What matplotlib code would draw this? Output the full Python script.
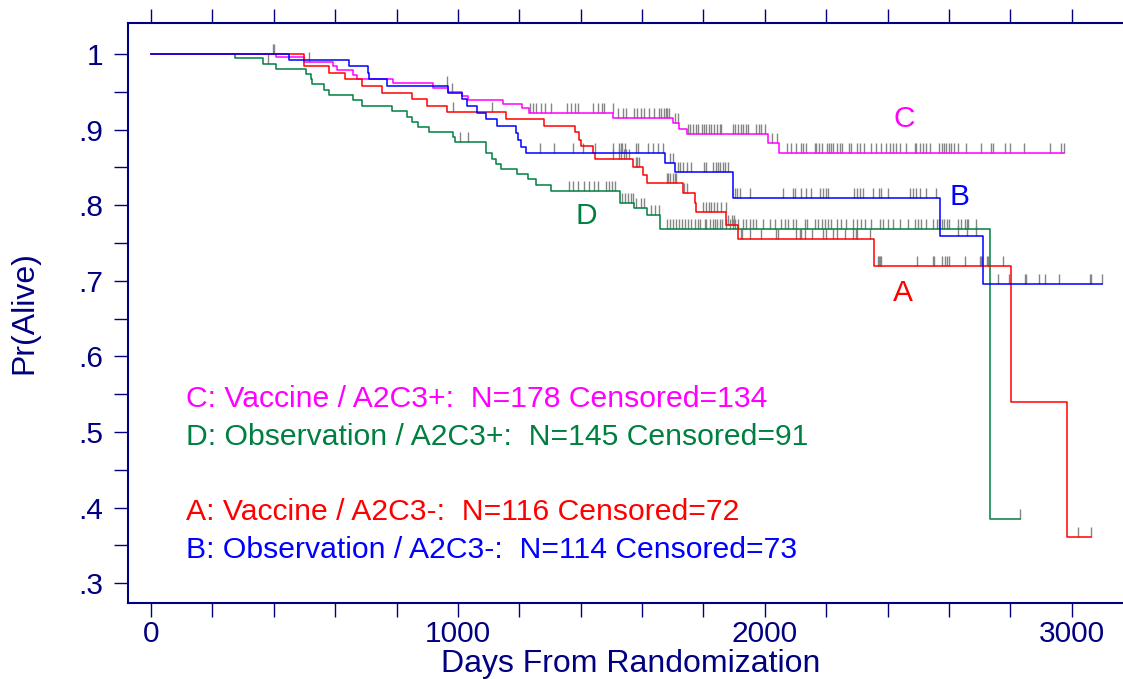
import numpy as np
import matplotlib
matplotlib.use("Agg")
import matplotlib.pyplot as plt

plt.rcParams['font.family'] = ['Liberation Sans', 'DejaVu Sans']

NAVY = '#000080'

# group C: Vaccine / A2C3+
c_times = [407, 498, 594, 605, 659, 670, 789, 918, 969, 1012, 1034, 1148, 1209, 1232,
           1506, 1701, 1721, 1745, 2011, 2047]
c_surv = [0.9956, 0.9890, 0.9841, 0.9784, 0.9726, 0.9669, 0.9612, 0.9550, 0.9497, 0.9444,
          0.9392, 0.9335, 0.9282, 0.9216, 0.9150, 0.9083, 0.9004, 0.8938, 0.8819, 0.8695]
c_end = 2975
c_cens = [400, 516, 1235, 1245, 1256, 1272, 1283, 1305, 1357, 1368, 1381, 1390, 1441, 1455,
          1471, 1477, 1504, 1521, 1537, 1547, 1574, 1585, 1596, 1607, 1623, 1639, 1656, 1663,
          1672, 1677, 1683, 1688, 1707, 1717, 1750, 1758, 1766, 1775, 1783, 1794, 1801, 1810,
          1819, 1826, 1834, 1845, 1853, 1859, 1895, 1902, 1913, 1921, 1929, 1938, 1946, 1973,
          1981, 1989, 2000, 2022, 2040, 2071, 2085, 2103, 2119, 2125, 2134, 2163, 2168, 2177,
          2185, 2204, 2210, 2217, 2223, 2234, 2244, 2253, 2275, 2282, 2302, 2309, 2322, 2347,
          2364, 2380, 2394, 2407, 2418, 2429, 2440, 2459, 2489, 2494, 2505, 2516, 2527, 2537,
          2568, 2576, 2583, 2592, 2600, 2608, 2616, 2630, 2657, 2706, 2736, 2744, 2782, 2800,
          2844, 2928, 2964, 2975]

# group D: Observation / A2C3+
d_times = [274, 364, 407, 505, 521, 525, 565, 581, 659, 689, 785, 835, 851, 871, 907, 985,
           990, 1090, 1093, 1110, 1123, 1139, 1192, 1229, 1253, 1303, 1528, 1575, 1615, 1660,
           2733]
d_surv = [0.9943, 0.9872, 0.9806, 0.9735, 0.9665, 0.9599, 0.9524, 0.9458, 0.9388, 0.9312,
          0.9242, 0.9171, 0.9104, 0.9034, 0.8968, 0.8898, 0.8832, 0.8761, 0.8694, 0.8611,
          0.8545, 0.8479, 0.8409, 0.8343, 0.8263, 0.8192, 0.8033, 0.7959, 0.7870, 0.7681,
          0.3849]
d_end = 2831
d_cens = [381, 1006, 1033, 1363, 1374, 1390, 1412, 1428, 1444, 1455, 1482, 1493, 1503, 1512,
          1536, 1544, 1555, 1563, 1571, 1582, 1598, 1607, 1629, 1642, 1656, 1680, 1690, 1701,
          1712, 1720, 1729, 1739, 1750, 1761, 1772, 1783, 1790, 1805, 1810, 1821, 1832, 1837,
          1845, 1853, 1862, 1873, 1886, 1897, 1902, 1913, 1929, 1940, 1951, 1962, 1973, 1995,
          2016, 2033, 2054, 2065, 2076, 2092, 2103, 2130, 2139, 2163, 2174, 2185, 2195, 2206,
          2217, 2234, 2250, 2266, 2288, 2299, 2315, 2326, 2347, 2375, 2385, 2402, 2418, 2440,
          2467, 2489, 2499, 2510, 2527, 2548, 2560, 2567, 2576, 2583, 2593, 2599, 2629, 2638,
          2651, 2658, 2661, 2687, 2831]

# group A: Vaccine / A2C3-
a_times = [498, 581, 632, 689, 753, 849, 898, 965, 1158, 1281, 1381, 1395, 1400, 1439, 1446,
           1571, 1603, 1617, 1732, 1772, 1775, 1875, 1913, 2356, 2803, 2986]
a_surv = [0.9841, 0.9753, 0.9665, 0.9577, 0.9488, 0.9401, 0.9312, 0.9229, 0.9136, 0.9052,
          0.8964, 0.8862, 0.8787, 0.8694, 0.8607, 0.8501, 0.8399, 0.8290, 0.8157, 0.8033,
          0.7906, 0.7738, 0.7557, 0.7200, 0.5401, 0.3607]
a_end = 3064
a_cens = [397, 985, 1110, 1506, 1524, 1533, 1542, 1549, 1557, 1581, 1585, 1590, 1680, 1685,
          1691, 1701, 1707, 1712, 1736, 1747, 1799, 1810, 1819, 1826, 1834, 1843, 1859, 1873,
          1880, 1892, 1900, 1922, 1927, 1951, 1989, 2038, 2043, 2103, 2114, 2119, 2130, 2155,
          2190, 2201, 2223, 2234, 2261, 2287, 2297, 2299, 2342, 2369, 2372, 2377, 2380, 2497,
          2548, 2550, 2579, 2586, 2594, 2600, 2651, 2700, 2704, 2708, 2724, 2727, 2776, 3020,
          3064]

# group B: Observation / A2C3-
b_times = [451, 646, 708, 711, 770, 969, 1014, 1031, 1061, 1090, 1128, 1189, 1196, 1207, 1221,
           1674, 1709, 1895, 2570, 2711]
b_surv = [0.9921, 0.9841, 0.9745, 0.9665, 0.9577, 0.9488, 0.9401, 0.9312, 0.9224, 0.9136,
          0.9048, 0.8959, 0.8862, 0.8774, 0.8687, 0.8562, 0.8435, 0.8099, 0.7597, 0.6958]
b_end = 3099
b_cens = [963, 980, 1267, 1314, 1376, 1408, 1446, 1506, 1525, 1531, 1536, 1544, 1582, 1587,
          1620, 1636, 1652, 1667, 1691, 1701, 1718, 1725, 1734, 1745, 1761, 1801, 1810, 1832,
          1840, 1848, 1853, 1864, 1870, 1880, 1902, 1910, 1919, 1951, 2058, 2092, 2098, 2119,
          2136, 2152, 2179, 2190, 2201, 2206, 2291, 2299, 2310, 2321, 2353, 2372, 2380, 2402,
          2472, 2483, 2494, 2505, 2527, 2559, 2629, 2658, 2687, 2760, 2796, 2847, 2852, 2893,
          2912, 2959, 3061, 3064, 3099]

legend_lines = ["C: Vaccine / A2C3+:  N=178 Censored=134",
                "D: Observation / A2C3+:  N=145 Censored=91",
                "A: Vaccine / A2C3-:  N=116 Censored=72",
                "B: Observation / A2C3-:  N=114 Censored=73"]

groups = [
    # times, surv, end, censored, colour, letter, letter position
    (c_times, c_surv, c_end, c_cens, '#ff00ff', 'C', (2456, 0.914)),
    (d_times, d_surv, d_end, d_cens, '#008040', 'D', (1420, 0.786)),
    (a_times, a_surv, a_end, a_cens, '#ff0000', 'A', (2450, 0.684)),
    (b_times, b_surv, b_end, b_cens, '#0000ff', 'B', (2635, 0.811)),
]
legend_y = [0.5437, 0.4934, 0.3942, 0.3439]

fig = plt.figure(figsize=(11.23, 6.79), dpi=100)
ax = fig.add_axes([128 / 1123, 76 / 679, 1005 / 1123, 580 / 679])

for times, surv, end, cens, col, letter, pos in groups:
    t = np.concatenate([[0], times, [end]])
    s = np.concatenate([[1.0], surv, [surv[-1]]])
    ax.step(t, s, where='post', color=col, lw=1.1, zorder=3)
    # censor marks sit on the curve level at that time
    idx = np.searchsorted(t, cens, side='right') - 1
    lev = s[idx]
    ax.vlines(cens, lev, lev + 0.013, colors='#858585', lw=1.0, zorder=2)
    ax.text(pos[0], pos[1], letter, color=col, fontsize=21.5, ha='center', va='center')

for line, yy, g in zip(legend_lines, legend_y, groups):
    ax.text(114, yy, line, color=g[4], fontsize=21.7, ha='left', va='center')

ax.set_xlim(-75, 3200)
ax.set_ylim(0.2738, 1.041)

ax.set_xticks([0, 1000, 2000, 3000])
ax.set_xticks(np.arange(0, 3201, 200), minor=True)
ax.set_yticks(np.arange(0.3, 1.001, 0.1))
ax.set_yticklabels(['.3', '.4', '.5', '.6', '.7', '.8', '.9', '1'])
ax.set_yticks(np.arange(0.35, 1.0, 0.1), minor=True)

ax.tick_params(which='both', direction='out', length=10, width=1, color=NAVY,
               labelcolor=NAVY, labelsize=21.5, top=True, right=False)
ax.tick_params(axis='x', which='both', pad=2)
ax.tick_params(axis='y', which='both', pad=8)

for side in ['left', 'top', 'bottom']:
    ax.spines[side].set_color(NAVY)
    ax.spines[side].set_linewidth(1.5)
ax.spines['right'].set_visible(False)

ax.set_xlabel('Days From Randomization', color=NAVY, fontsize=23, labelpad=1)
ax.set_ylabel('Pr(Alive)', color=NAVY, fontsize=23, labelpad=28)

fig.savefig('out.png', dpi=100)
